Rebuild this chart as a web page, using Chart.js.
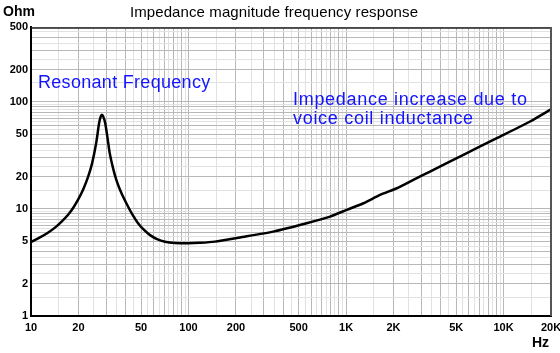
<!DOCTYPE html>
<html>
<head>
<meta charset="utf-8">
<script src="https://cdn.jsdelivr.net/npm/chart.js@4"></script>
<style>
  html, body { margin: 0; padding: 0; background: #fff; }
  #wrap { width: 560px; height: 353px; }
</style>
</head>
<body>
<div id="wrap"><canvas id="impChart"></canvas></div>
<script>
// --- datos ---
const freqHz = [10, 11.4, 12.8, 14.2, 15.7, 17.2, 18.5, 19.9, 21.4, 23.0, 24.4, 25.9, 27.0, 27.6, 28.2, 28.8, 29.6, 30.6, 31.6, 33.2, 34.8, 37.3, 40.3, 43.8, 47.8, 52.2, 57, 63.1, 70.9, 82.1, 99.3, 118.3, 147, 212, 345, 562, 791, 1009, 1289, 1644, 2099, 2675, 3412, 5559, 9060, 14730, 20000];
const impOhm = [4.92, 5.42, 6.0, 6.69, 7.66, 8.83, 10.2, 12.2, 15.1, 19.8, 26.5, 40.8, 62.0, 71.6, 75.6, 72.4, 63.2, 46.1, 33.2, 23.9, 18.7, 14.3, 11.3, 8.98, 7.35, 6.36, 5.69, 5.22, 4.94, 4.81, 4.78, 4.82, 4.95, 5.42, 6.14, 7.35, 8.48, 9.8, 11.3, 13.5, 15.6, 18.7, 22.3, 32.0, 45.8, 65.5, 85];
const xTickLabels = { 10: '10', 20: '20', 50: '50', 100: '100', 200: '200', 500: '500', 1000: '1K', 2000: '2K', 5000: '5K', 10000: '10K', 20000: '20K' };
const yTickLabels = { 1: '1', 2: '2', 5: '5', 10: '10', 20: '20', 50: '50', 100: '100', 200: '200', 500: '500' };
const gridSteps = [1, 1.5, 2, 2.5, 3, 3.5, 4, 4.5, 5, 5.5, 6, 6.5, 7, 7.5, 8, 8.5, 9, 9.5];

// lineas de la rejilla: k * 10^n dentro del rango
function buildGrid(scale) {
    const out = [];
    for (let e = -1; e <= 5; e++) {
        gridSteps.forEach(k => {
            const v = +(k * Math.pow(10, e)).toPrecision(6);
            if (v >= scale.min - 1e-9 && v <= scale.max + 1e-9) out.push({ value: v });
        });
    }
    scale.ticks = out;
}

function gridColor(c) {
    const v = c.tick ? c.tick.value : 1;
    const m = v / Math.pow(10, Math.floor(Math.log10(v) + 1e-9));
    return Math.abs(m - Math.round(m)) < 1e-6 ? '#b8b8b8' : '#e2e2e2';
}

// textos extra: Ohm, Hz, titulo, notas y marco
const extraText = {
    id: 'extraText',
    afterDraw(chart) {
        const ctx = chart.ctx;
        const a = chart.chartArea;
        ctx.save();
        ctx.strokeStyle = '#222';
        ctx.lineWidth = 1.5;
        ctx.beginPath();
        ctx.moveTo(a.left, a.top + 1);
        ctx.lineTo(a.right, a.top + 1);
        ctx.stroke();
        ctx.strokeStyle = '#555';
        ctx.lineWidth = 2;
        ctx.beginPath();
        ctx.moveTo(a.right, a.top);
        ctx.lineTo(a.right, a.bottom);
        ctx.stroke();

        ctx.fillStyle = '#000';
        ctx.textBaseline = 'alphabetic';
        ctx.font = 'bold 14px "Liberation Sans", Arial, sans-serif';
        ctx.textAlign = 'left';
        ctx.fillText('Ohm', 3, 16);
        ctx.textAlign = 'right';
        ctx.fillText('Hz', 549, 347);

        ctx.font = '15px "Liberation Sans", Arial, sans-serif';
        ctx.letterSpacing = '0.1px';
        ctx.textAlign = 'center';
        ctx.fillText('Impedance magnitude frequency response', 274, 17);

        ctx.fillStyle = '#1414ff';
        ctx.font = '18px "Liberation Sans", Arial, sans-serif';
        ctx.textAlign = 'left';
        ctx.letterSpacing = '0.3px';
        ctx.fillText('Resonant Frequency', 38, 88);
        ctx.letterSpacing = '0.7px';
        ctx.fillText('Impedance increase due to', 293, 105);
        ctx.fillText('voice coil inductance', 293, 124);
        ctx.restore();
    }
};

const ctx = document.getElementById('impChart').getContext('2d');
const impChart = new Chart(ctx, {
    type: 'line',
    data: {
        datasets: [{
            label: 'Impedance',
            data: freqHz.map((f, i) => ({ x: f, y: impOhm[i] })),
            borderColor: '#000',
            borderWidth: 2.5,
            pointRadius: 0,
            tension: 0.2,
            fill: false
        }]
    },
    options: {
        responsive: true,
        maintainAspectRatio: false,
        animation: false,
        layout: { padding: { top: 27, right: 9, left: 0, bottom: 0 } },
        plugins: {
            legend: { display: false },
            title: { display: false },
            tooltip: { enabled: false }
        },
        scales: {
            x: {
                type: 'logarithmic',
                min: 10,
                max: 20000,
                afterBuildTicks: buildGrid,
                afterFit: s => { s.height = 37; s.paddingLeft = 0; s.paddingRight = 0; },
                border: { color: '#000', width: 2 },
                grid: { color: gridColor, lineWidth: 1, drawTicks: false },
                ticks: {
                    autoSkip: false,
                    maxRotation: 0,
                    padding: 5,
                    color: '#000',
                    font: { family: '"Liberation Sans", Arial, sans-serif', size: 11, weight: 'bold' },
                    callback: v => xTickLabels[v] || ''
                }
            },
            y: {
                type: 'logarithmic',
                min: 1,
                max: 500,
                afterBuildTicks: buildGrid,
                afterFit: s => { s.width = 31; s.paddingTop = 0; s.paddingBottom = 0; },
                border: { color: '#000', width: 2 },
                grid: { color: gridColor, lineWidth: 1, drawTicks: false },
                ticks: {
                    autoSkip: false,
                    padding: 3,
                    color: '#000',
                    font: { family: '"Liberation Sans", Arial, sans-serif', size: 11, weight: 'bold' },
                    callback: v => yTickLabels[v] || ''
                }
            }
        }
    },
    plugins: [extraText]
});
</script>
</body>
</html>
